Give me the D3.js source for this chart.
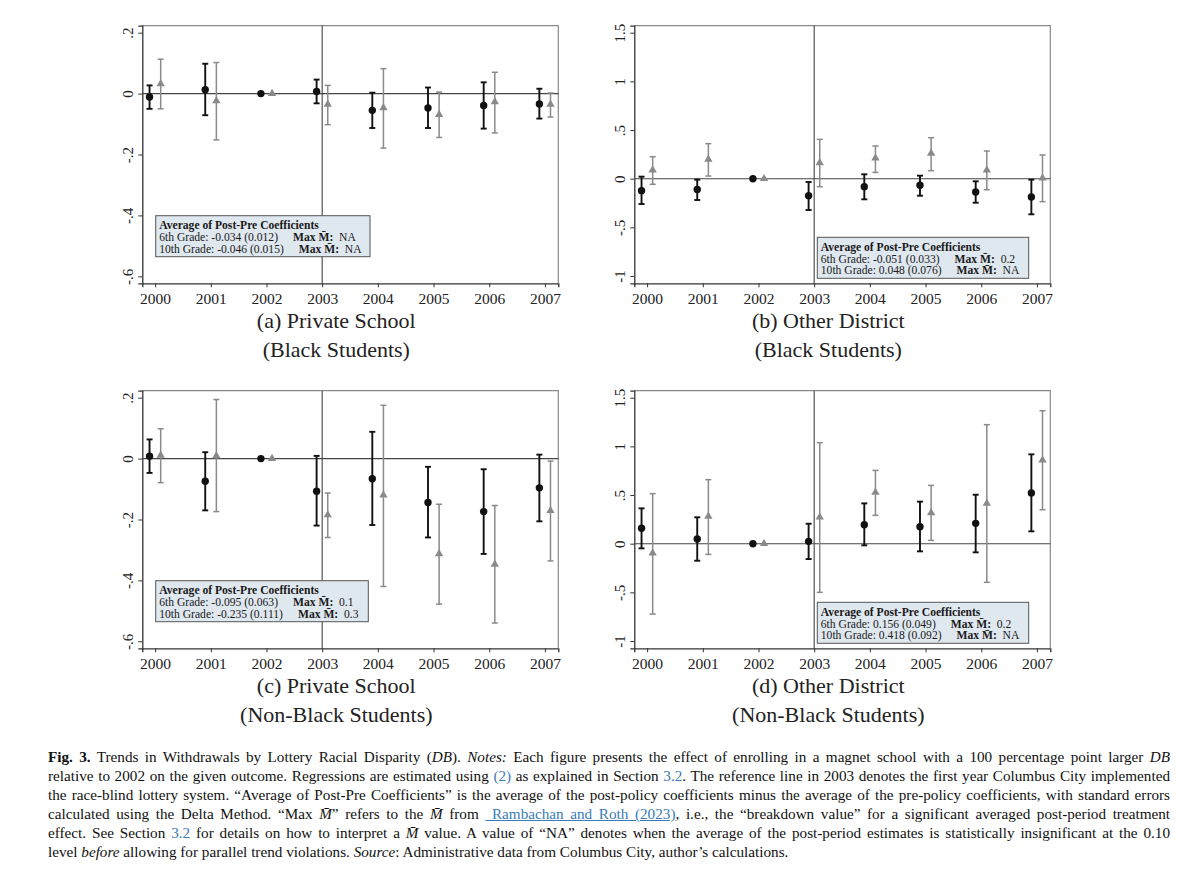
<!DOCTYPE html>
<html>
<head>
<meta charset="utf-8">
<script src="https://cdn.jsdelivr.net/npm/d3@7/dist/d3.min.js"></script>
<style>
  body { margin: 0; background: #fff; }
  #chart { position: absolute; left: 0; top: 0; }
  #caption {
    position: absolute; left: 48px; top: 747px; width: 1122px;
    font-family: "Liberation Serif", "Times New Roman", serif;
    font-size: 15.2px; line-height: 19px; color: #111;
  }
  #caption div { text-align: justify; text-align-last: justify; }
  #caption div.last { text-align-last: left; }
  #caption .blue { color: #3a7bb5; }
  #caption .lnk { color: #3a7bb5; text-decoration: underline; }
</style>
</head>
<body>
<svg id="chart" width="1200" height="740"></svg>
<div id="caption">
  <div><b>Fig. 3.</b> Trends in Withdrawals by Lottery Racial Disparity (<i>DB</i>). <i>Notes:</i> Each figure presents the effect of enrolling in a magnet school with a 100 percentage point larger <i>DB</i></div>
  <div>relative to 2002 on the given outcome. Regressions are estimated using <span class="blue">(2)</span> as explained in Section <span class="blue">3.2</span>. The reference line in 2003 denotes the first year Columbus City implemented</div>
  <div>the race-blind lottery system. “Average of Post-Pre Coefficients” is the average of the post-policy coefficients minus the average of the pre-policy coefficients, with standard errors</div>
  <div>calculated using the Delta Method. “Max <i>M̄</i>” refers to the <i>M̄</i> from <span class="lnk">&nbsp;Rambachan and Roth (2023)</span>, i.e., the “breakdown value” for a significant averaged post-period treatment</div>
  <div>effect. See Section <span class="blue">3.2</span> for details on how to interpret a <i>M̄</i> value. A value of “NA” denotes when the average of the post-period estimates is statistically insignificant at the 0.10</div>
  <div class="last">level <i>before</i> allowing for parallel trend violations. <i>Source</i>: Administrative data from Columbus City, author’s calculations.</div>
</div>
<script>
  // years on the x axis
  var YEARS = [2000, 2001, 2002, 2003, 2004, 2005, 2006, 2007];

  // estimates as [coef, lower CI, upper CI]; 2002 is the omitted base year
  var privBlack6 = [[-0.011, -0.050, 0.027], [0.013, -0.071, 0.098], [0, null, null], [0.007, -0.032, 0.046],
                    [-0.055, -0.113, 0.003], [-0.047, -0.113, 0.020], [-0.039, -0.115, 0.037], [-0.034, -0.082, 0.016]];
  var privBlack10 = [[0.032, -0.050, 0.113], [-0.024, -0.152, 0.102], [0, null, null], [-0.035, -0.102, 0.027],
                     [-0.047, -0.179, 0.082], [-0.069, -0.144, 0.005], [-0.027, -0.129, 0.070], [-0.035, -0.077, 0.002]];

  var othBlack6 = [[-0.123, -0.260, 0.021], [-0.110, -0.219, -0.010], [0, null, null], [-0.175, -0.322, -0.034],
                   [-0.082, -0.212, 0.045], [-0.068, -0.175, 0.031], [-0.137, -0.247, -0.027], [-0.188, -0.366, -0.010]];
  var othBlack10 = [[0.089, -0.058, 0.226], [0.199, 0.027, 0.360], [0, null, null], [0.164, -0.082, 0.404],
                    [0.212, 0.065, 0.336], [0.260, 0.082, 0.421], [0.089, -0.113, 0.284], [0.007, -0.236, 0.243]];

  var privNonBlack6 = [[0.008, -0.047, 0.063], [-0.074, -0.170, 0.021], [0, null, null], [-0.107, -0.220, 0.009],
                       [-0.066, -0.218, 0.088], [-0.144, -0.259, -0.027], [-0.174, -0.313, -0.035], [-0.096, -0.206, 0.013]];
  var privNonBlack10 = [[0.011, -0.079, 0.098], [0.009, -0.174, 0.194], [0, null, null], [-0.185, -0.259, -0.113],
                        [-0.120, -0.420, 0.175], [-0.313, -0.478, -0.150], [-0.347, -0.540, -0.154], [-0.171, -0.336, -0.008]];

  var othNonBlack6 = [[0.158, -0.048, 0.363], [0.048, -0.175, 0.271], [0, null, null], [0.024, -0.158, 0.205],
                      [0.195, -0.017, 0.414], [0.175, -0.079, 0.432], [0.209, -0.089, 0.503], [0.521, 0.127, 0.918]];
  var othNonBlack10 = [[-0.096, -0.723, 0.514], [0.281, -0.110, 0.658], [0, null, null], [0.274, -0.500, 1.038],
                       [0.527, 0.291, 0.753], [0.318, 0.034, 0.599], [0.414, -0.397, 1.223], [0.860, 0.349, 1.366]];

  // y ticks for the two axis ranges
  var TICKS_PRIV = [0.2, 0, -0.2, -0.4, -0.6];
  var TICK_LABELS_PRIV = [".2", "0", "-.2", "-.4", "-.6"];
  var TICKS_OTH = [1.5, 1, 0.5, 0, -0.5, -1];
  var TICK_LABELS_OTH = ["1.5", "1", ".5", "0", "-.5", "-1"];

  // text of the summary boxes: [row label, Max M value]
  var boxPrivBlack = [["6th Grade: -0.034 (0.012)", "NA"], ["10th Grade: -0.046 (0.015)", "NA"]];
  var boxOthBlack = [["6th Grade: -0.051 (0.033)", "0.2"], ["10th Grade: 0.048 (0.076)", "NA"]];
  var boxPrivNonBlack = [["6th Grade: -0.095 (0.063)", "0.1"], ["10th Grade: -0.235 (0.111)", "0.3"]];
  var boxOthNonBlack = [["6th Grade: 0.156 (0.049)", "0.2"], ["10th Grade: 0.418 (0.092)", "NA"]];

  var W = 416, H = 257.6;
  var SERIF = "'Liberation Serif', 'Times New Roman', serif";
  var POLICY_YEAR = 2003;

  var panels = [
    { left: 142.3, top: 25.7, dom: [-0.623, 0.223], ticks: TICKS_PRIV, labels: TICK_LABELS_PRIV,
      g6: privBlack6, g10: privBlack10, box: boxPrivBlack, bx: 13.4, by: 190, bw: 214.3,
      title: ["(a) Private School", "(Black Students)"] },
    { left: 634.3, top: 25.7, dom: [-1.075, 1.572], ticks: TICKS_OTH, labels: TICK_LABELS_OTH,
      g6: othBlack6, g10: othBlack10, box: boxOthBlack, bx: 183, by: 211.6, bw: 211.4,
      title: ["(b) Other District", "(Black Students)"] },
    { left: 142.3, top: 390.7, dom: [-0.623, 0.223], ticks: TICKS_PRIV, labels: TICK_LABELS_PRIV,
      g6: privNonBlack6, g10: privNonBlack10, box: boxPrivNonBlack, bx: 13.4, by: 190, bw: 212.6,
      title: ["(c) Private School", "(Non-Black Students)"] },
    { left: 634.3, top: 390.7, dom: [-1.075, 1.572], ticks: TICKS_OTH, labels: TICK_LABELS_OTH,
      g6: othNonBlack6, g10: othNonBlack10, box: boxOthNonBlack, bx: 183, by: 211.6, bw: 211.4,
      title: ["(d) Other District", "(Non-Black Students)"] }
  ];

  var svg = d3.select("#chart");

  panels.forEach(function (p) {
    var g = svg.append("g").attr("transform", "translate(" + p.left + "," + p.top + ")");
    var x = d3.scaleLinear().domain([1999.77, 2007.24]).range([0, W]);
    var y = d3.scaleLinear().domain(p.dom).range([H, 0]);

    // top and right frame lines (lighter)
    g.append("path")
      .attr("d", "M0,0H" + W + "V" + H)
      .attr("fill", "none").attr("stroke", "#8a8a8a").attr("stroke-width", 1.2);

    // y axis
    var yAxis = g.append("g")
      .call(d3.axisLeft(y).tickValues(p.ticks).tickSize(4).tickPadding(9)
        .tickFormat(function (d, i) { return p.labels[i]; }));
    yAxis.select(".domain").attr("stroke", "#333").attr("stroke-width", 1.3);
    yAxis.selectAll(".tick line").attr("stroke", "#333");
    yAxis.selectAll(".tick text")
      .attr("transform", "rotate(-90)")
      .attr("x", 0).attr("y", -9)
      .attr("dy", 0)
      .style("text-anchor", "middle")
      .style("font-family", SERIF).style("font-size", "15px").style("fill", "#222");

    // x axis
    var xAxis = g.append("g").attr("transform", "translate(0," + H + ")")
      .call(d3.axisBottom(x).tickValues(YEARS).tickSize(4).tickPadding(6).tickFormat(d3.format("d")));
    xAxis.select(".domain").attr("stroke", "#333").attr("stroke-width", 1.3);
    xAxis.selectAll(".tick line").attr("stroke", "#333");
    xAxis.selectAll(".tick text")
      .style("font-family", SERIF).style("font-size", "15.5px").style("fill", "#222");

    // reference lines
    g.append("line")
      .attr("x1", 0).attr("x2", W).attr("y1", y(0)).attr("y2", y(0))
      .attr("stroke", "#444").attr("stroke-width", 1.1);
    g.append("line")
      .attr("x1", x(POLICY_YEAR)).attr("x2", x(POLICY_YEAR)).attr("y1", 0).attr("y2", H)
      .attr("stroke", "#444").attr("stroke-width", 1.1);

    // series: 6th grade black circles, 10th grade grey triangles
    var series = [
      { data: p.g6, off: -0.1, color: "#111", width: 1.9, shape: "circle" },
      { data: p.g10, off: 0.1, color: "#8a8a8a", width: 1.5, shape: "triangle" }
    ];
    series.forEach(function (s) {
      var pts = s.data.map(function (d, i) { return { yr: YEARS[i], est: d[0], lo: d[1], hi: d[2] }; });
      var ci = pts.filter(function (d) { return d.lo !== null; });
      var cg = g.append("g").attr("stroke", s.color).attr("stroke-width", s.width).attr("fill", "none");
      ci.forEach(function (d) {
        var cx = x(d.yr + s.off);
        cg.append("line").attr("x1", cx).attr("x2", cx).attr("y1", y(d.lo)).attr("y2", y(d.hi));
        cg.append("line").attr("x1", cx - 3).attr("x2", cx + 3).attr("y1", y(d.lo)).attr("y2", y(d.lo));
        cg.append("line").attr("x1", cx - 3).attr("x2", cx + 3).attr("y1", y(d.hi)).attr("y2", y(d.hi));
      });
      if (s.shape === "circle") {
        g.selectAll(null).data(pts).enter().append("circle")
          .attr("cx", function (d) { return x(d.yr + s.off); })
          .attr("cy", function (d) { return y(d.est); })
          .attr("r", 3.7).attr("fill", s.color);
      } else {
        var tri = d3.symbol().type(d3.symbolTriangle).size(30);
        g.selectAll(null).data(pts).enter().append("path")
          .attr("d", tri)
          .attr("transform", function (d) { return "translate(" + x(d.yr + s.off) + "," + y(d.est) + ")"; })
          .attr("fill", s.color);
      }
    });

    // summary box
    var bg = g.append("g").attr("transform", "translate(" + p.bx + "," + p.by + ")");
    bg.append("rect").attr("width", p.bw).attr("height", 41)
      .attr("fill", "#dfe7ef").attr("stroke", "#555").attr("stroke-width", 1);
    bg.append("text").attr("x", 3.5).attr("y", 13.8)
      .style("font-family", SERIF).style("font-size", "11.6px").style("font-weight", "bold").style("fill", "#1a1a1a")
      .text("Average of Post-Pre Coefficients");
    p.box.forEach(function (row, i) {
      var ty = 25.5 + i * 11.7;
      var t = bg.append("text").attr("x", 3.5).attr("y", ty)
        .style("font-family", SERIF).style("font-size", "11.6px").style("fill", "#1a1a1a")
        .text(row[0]);
      var mx = 3.5 + t.node().getComputedTextLength() + 15;
      var m = bg.append("text").attr("x", mx).attr("y", ty)
        .style("font-family", SERIF).style("font-size", "11.6px").style("fill", "#1a1a1a");
      m.append("tspan").style("font-weight", "bold").text("Max M\u0304:");
      m.append("tspan").text("\u00a0 " + row[1]);
    });

    // panel title
    p.title.forEach(function (line, i) {
      svg.append("text")
        .attr("x", p.left + W / 2 - 14).attr("y", p.top + H + 45 + i * 28.5)
        .attr("text-anchor", "middle")
        .style("font-family", SERIF).style("font-size", "22px").style("fill", "#222")
        .text(line);
    });
  });
</script>
</body>
</html>
